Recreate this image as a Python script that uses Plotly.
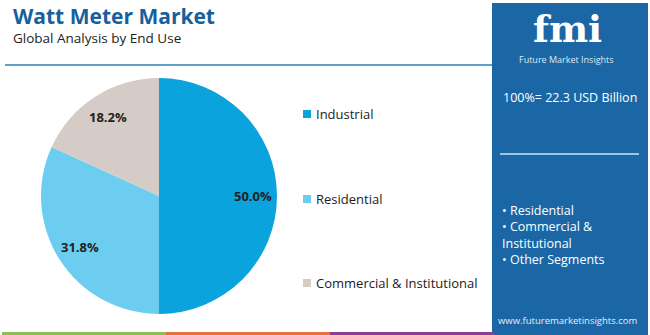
import math
import plotly.graph_objects as go

categories = ["Industrial", "Residential", "Commercial & Institutional"]
shares = [50.0, 31.8, 18.2]
colors = ["#0ba3dd", "#6dcdf1", "#d6ccc7"]
panel_bullets = ["• Residential", "• Commercial &<br>Institutional", "• Other Segments"]
total_text = "100%= 22.3 USD Billion"

W, H = 650, 335
PANEL = "#1b67a6"
CX, CY, R = 159, 196, 118

def px(x):
    return x / W

def py(y):
    return 1 - y / H

fig = go.Figure()
fig.add_trace(go.Pie(
    labels=categories, values=shares, sort=False, direction="clockwise", rotation=0,
    marker=dict(colors=colors, line=dict(width=0)),
    textinfo="none",
    domain=dict(x=[px(CX - R), px(CX + R)], y=[py(CY + R), py(CY - R)]),
    showlegend=False, hoverinfo="label+percent",
))

shapes = []
annotations = []

# slice labels placed at each slice's mid-angle
total = sum(shares)
cum = 0.0
for v in shares:
    mid = (cum + v / 2) / total * 2 * math.pi
    cum += v
    lx = CX + 0.8 * R * math.sin(mid)
    ly = CY - 0.8 * R * math.cos(mid)
    annotations.append(dict(text=f"<b>{v:.1f}%</b>", x=px(lx), y=py(ly), xref="paper", yref="paper",
                            xanchor="center", yanchor="middle", showarrow=False,
                            font=dict(family="Open Sans", size=13, color="#222222")))

# header line
shapes.append(dict(type="line", xref="paper", yref="paper", x0=px(5), x1=px(492), y0=py(65), y1=py(65),
                   line=dict(color="#2b7fb6", width=1.5)))
# right panel
shapes.append(dict(type="rect", xref="paper", yref="paper", x0=px(492), x1=px(648), y0=py(332), y1=py(3),
                   fillcolor=PANEL, line=dict(width=0), layer="below"))
# bottom colour strip
for c, (a, b) in zip(["#8cc152", "#e8703a", "#8e3b9b", PANEL],
                     [(2, 166), (166, 330), (330, 494), (494, 648)]):
    shapes.append(dict(type="rect", xref="paper", yref="paper", x0=px(a), x1=px(b), y0=py(335), y1=py(332),
                       fillcolor=c, line=dict(width=0)))
# panel separator
shapes.append(dict(type="line", xref="paper", yref="paper", x0=px(500), x1=px(639), y0=py(154), y1=py(154),
                   line=dict(color="#cfe3f3", width=1.5)))

# titles
annotations.append(dict(text="<b>Watt Meter Market</b>", x=px(11), y=py(16), xref="paper", yref="paper",
                        xanchor="left", yanchor="middle", showarrow=False,
                        font=dict(family="Open Sans", size=21, color="#17609b")))
annotations.append(dict(text="Global Analysis by End Use", x=px(11), y=py(38), xref="paper", yref="paper",
                        xanchor="left", yanchor="middle", showarrow=False,
                        font=dict(family="Open Sans", size=13.5, color="#222222")))

# legend
leg_y = [114, 199, 283]
for cat, col, yy in zip(categories, colors, leg_y):
    shapes.append(dict(type="rect", xref="paper", yref="paper", x0=px(303), x1=px(311),
                       y0=py(yy + 4), y1=py(yy - 4), fillcolor=col, line=dict(width=0)))
    annotations.append(dict(text=cat, x=px(314), y=py(yy), xref="paper", yref="paper",
                            xanchor="left", yanchor="middle", showarrow=False,
                            font=dict(family="Open Sans", size=13, color="#222222")))

# panel logo
annotations.append(dict(text="<b>fmi</b>", x=px(567), y=py(29), xref="paper", yref="paper",
                        xanchor="center", yanchor="middle", showarrow=False,
                        font=dict(family="DejaVu Serif", size=37, color="white")))
annotations.append(dict(text="Future Market Insights", x=px(566), y=py(60), xref="paper", yref="paper",
                        xanchor="center", yanchor="middle", showarrow=False,
                        font=dict(family="Open Sans", size=9, color="#dbe9f5")))
annotations.append(dict(text=total_text, x=px(501), y=py(97), xref="paper", yref="paper",
                        xanchor="left", yanchor="middle", showarrow=False,
                        font=dict(family="Open Sans", size=12.5, color="white")))
annotations.append(dict(text="<br>".join(panel_bullets), x=px(500), y=py(200), xref="paper", yref="paper",
                        xanchor="left", yanchor="top", align="left", showarrow=False,
                        font=dict(family="Open Sans", size=12.5, color="white")))
annotations.append(dict(text="www.futuremarketinsights.com", x=px(568), y=py(320), xref="paper", yref="paper",
                        xanchor="center", yanchor="middle", showarrow=False,
                        font=dict(family="Open Sans", size=9.5, color="#e3eef8")))

fig.update_layout(width=W, height=H, margin=dict(l=0, r=0, t=0, b=0),
                  paper_bgcolor="white", plot_bgcolor="white",
                  shapes=shapes, annotations=annotations)
fig.write_html("out.html")
